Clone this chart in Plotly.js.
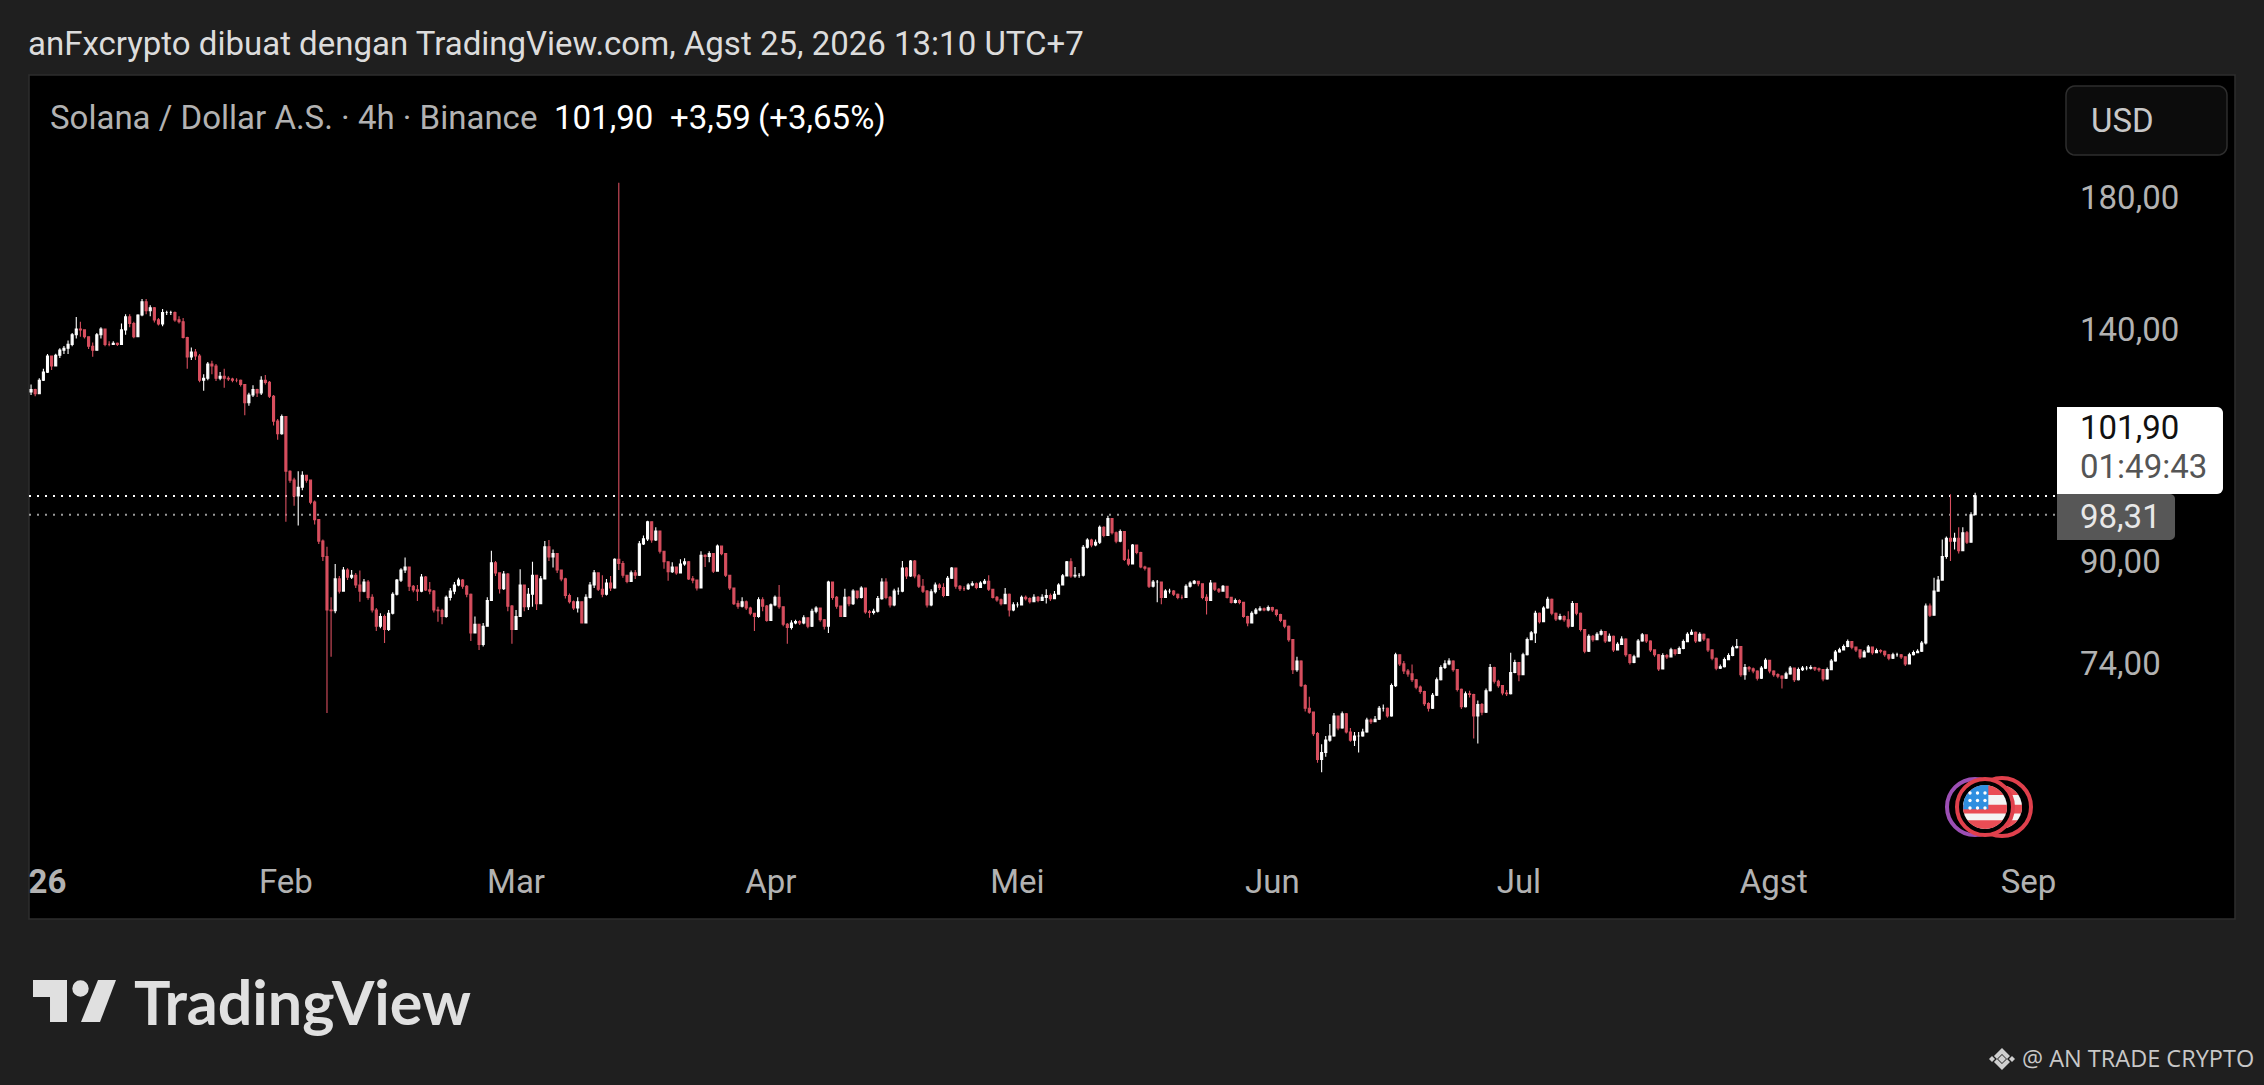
<!DOCTYPE html>
<html><head><meta charset="utf-8">
<script src="https://cdn.plot.ly/plotly-3.0.1.min.js"></script>
<style>html,body{margin:0;padding:0;background:#1f1f1f;overflow:hidden}#c{width:2264px;height:1085px}</style>
</head><body><div id="c"></div>
<script>
// Rows are 12-hour candles: [close, high, low]; a one-value row has no visible wick.
const janRows=[[124.8,126,123.5],[123.8,125,123.2],[127,127.5,124],[129,129.8,126.8],[133,133.5,128.8],[130.5,132.8,129.5],[133.2,133.6,130.5],[134.5,135,132.5],[135,135.6,133.5],[136,137,133.5],[138.5,139,135.5],[140,143.3,137.5],[139.8,142,138],[138,139.8,137.5],[135.5,138,134.8],[134.5,136.5,132.8],[138.5,139,134.5],[140,140.5,137.5],[136,140,135.5],[136,136.8,135.5],[136.3,136.8,135.8],[136,136.5,135.6],[139.8,141.5,136],[143.3,144,138.5],[141.5,144,140.5],[138,142,137.6],[143.8,144,138],[147.5,148.3,143.5],[145,148.3,144],[145.8,146.5,143.5],[142.5,146,141.8],[141.4,143,141],[144.5,145.5,140.8],[144.5,145,143.8],[144.5,145,143.8],[142.5,144.8,142],[142,143.5,141.5],[137.8,143,137.5],[132.8,138,129.8],[134,135.2,132],[133,134.8,132],[127,133.5,126.5],[127.5,128.5,124.5],[131,131.5,127],[130.5,131.8,128.5],[127.5,131,126.8],[128,129,127],[127.5,129.8,125.2],[127.3,128,126.8],[127,127.6,126.5],[127,127.5,126.5],[126,127.2,125.5],[121.7,126,118.8],[123.5,124,121],[124.8,125.8,123],[124,125,123],[127,128,123.5],[126.5,128.3,126],[123.2,126.8,122.8],[117.5,123.5,116.5],[114.7,118,113.4],[118.5,119,114.5]];
const febRows=[[106.8,115,97],[105,107,104.5],[101.9,105.5,100],[103.6,106.8,96.3],[106,106.8,103],[105,106,104.5],[100.7,105,100.3],[97.4,101,96.5],[93.5,97.5,93],[90.8,93.8,90],[82,92.5,67.4],[81.9,84,75],[87,89.5,81.5],[85,87.5,84.6],[88.5,89,85],[87.3,88.8,86.8],[87.6,88.5,87],[86,88,85.5],[85,88.4,83.3],[86.5,87,84.8],[84,86.8,83.6],[82,84.5,81.6],[79.5,82.3,78.8],[81,81.5,79.2],[79,81.3,77],[81.5,82,78.8],[84.5,84.8,81.3],[86.8,87,84.3],[88.5,88.8,86.5],[89,90.6,88],[85.8,89,85],[85.2,86,84.8],[85,86,83.4],[87.3,87.8,84.8],[85.2,87.5,85],[85,86.5,84.5],[82,85.2,81.6],[81.9,82.5,80.2],[81,82.2,79.8],[84,84.3,80.8],[85,85.5,83.5],[86,86.5,84.5],[86.8,87.2,85.8],[85.8,87,85.4],[84.5,86,84],[78.5,84.6,77.3],[79.8,81,79],[76.8,79.8,76],[79.5,80,76.5],[83.5,84,79.5],[89.7,91.8,83.5],[88,90,87.5],[85.4,88,84.6],[87.8,88.3,85.2],[82.6,88,81.8],[79,82.8,76.9]];
const marRows=[[81,82,79],[86,88.6,81],[82.5,86,81.8],[84.5,85.5,82],[87.6,89.9,82.5],[83,87.5,82],[87,87.5,83],[92.5,93.5,87],[90.7,93.7,90],[91.3,92,88.9],[88.5,89.2,88],[87,88.5,86.6],[84.3,87.2,83.8],[83.3,84.6,83],[82.3,83.5,82],[83.3,84,81.6],[80,82.5,79.9],[84,84.5,80],[86,86.5,83.8],[88,88.5,85.5],[85.3,88,85],[84.5,87.6,84],[86.3,87,84.3],[85.5,87.5,85],[90.3,90.5,85.4],[89.6,185,88.5],[87.6,90,87.2],[86.6,87.6,86.3],[88,88.4,86.5],[87.6,88.5,87],[93,93.5,87.5],[93.9,94.5,92.8],[97,97.2,93.5],[93.7,95.5,93.2],[95.3,96,93.5],[91.7,94.5,91.3],[89.9,90.4,88.7],[88.2,89.5,86.7],[89,89.8,88],[88,89,87.7],[89.5,90.3,88.3],[89.9,90.5,89.2],[87,90,86.8],[86.8,87.5,86.3],[85.5,86.3,85.1],[91,91.7,85.5],[90.8,91.2,89],[91.3,91.7,89.8],[88.3,91.3,88],[92.6,92.9,88.5],[91.3,92.5,91],[87.6,91.3,87.3],[85.5,87.7,85.2],[83,85.6,82.8],[82.6,83.5,82.2],[83.3,84,82.4],[82.3,83.5,82],[81.5,82.5,81.2],[81,81.5,78.8],[83.6,84,80.8],[82.6,84,81.8],[80.4,82.8,80.2]];
const aprRows=[[82.8,83,80.4],[84,84.3,82.6],[82.5,86,82.2],[79.8,82.6,79.5],[79.3,80,76.9],[80,80.4,79],[80.2,80.5,79.8],[80,80.4,79.7],[80.8,81.2,79.8],[79.5,80.8,79.2],[81.8,82.2,79.4],[82.3,82.6,81.5],[80.5,82.4,80.2],[79.5,80.6,79],[86.5,86.7,78.5],[84,86.5,83.6],[82.6,84.2,82.2],[81,82.6,80.9],[84,85.4,81],[83,84.2,82.6],[85,85.3,82.8],[84,85,83.7],[85.5,85.8,83.8],[81.7,85.5,81.4],[81.6,82,80.8],[81.8,82.2,81.3],[83.8,84.2,81.6],[86.5,87.1,83.6],[84,87.1,83.7],[82.8,84.2,82.4],[85,85.4,82.6],[85,85.6,84.4],[88.8,90,84.8],[87.5,89,87],[90,90.2,87.3],[87.5,90.2,87.1],[85.8,87.8,85.5],[85,87,84.7],[82.8,85.2,82.4],[84.9,85.3,82.6],[86,86.4,84.6],[85.6,86.3,85.2],[84.3,86.3,84],[87.1,87.5,84.2],[88.8,89,87],[85.8,86.8,85.4],[85.4,86,85],[85.4,85.8,85],[86,86.3,85.2],[86.2,86.6,85.8],[85.6,86.4,85.3],[86.3,86.6,85.5],[86.6,87,86.1],[85.3,87.6,85],[84,85.4,83.8],[83.6,84.2,83.3],[83,83.8,82.7],[84.5,85.5,83],[82,84.6,81],[82.8,83.2,81.8]];
const mayRows=[[82.8,83.2,82.4],[84,84.3,82.7],[83.8,84.3,83.5],[83.3,84,83],[84,84.5,83.2],[83.5,84.2,83.2],[84,84.5,83.4],[84.3,85.3,83],[83.8,84.6,83.4],[84.5,85,83.7],[86,86.3,84.4],[87.5,87.8,85.9],[89.9,90,87.4],[87.5,90.5,87.2],[87.6,89,87.2],[87.6,88,87.2],[92.4,92.8,87.4],[93.7,94,92.2],[92.8,93.9,92.4],[93.3,93.8,92.6],[96,96.3,93],[94.5,96.2,94.2],[97.6,98.1,95],[95,97.5,94.7],[93.5,95.2,93.1],[95.2,95.6,93.3],[90.3,95.3,90],[89.5,92,89.2],[92.8,93,89.4],[91.5,92.9,91.2],[89,91.6,88.8],[88.8,89.2,88.4],[85.8,88.5,85.5],[86.5,86.8,85.6],[86.5,86.8,83.2],[84,86,82.9],[85,85.3,83.9],[85,85.4,84.6],[84.5,85.2,84.2],[84,84.6,83.7],[84,84.4,83.7],[85.8,86.1,83.9],[86.3,86.6,85.6],[86.6,86.8,86.1],[86.2,86.7,85.8],[84,86.3,83.7],[83.5,84.5,81.3],[86.3,86.8,83.4],[85.3,86.4,85],[85,85.5,84.7],[85.8,86,84.9],[84,85.3,83.8],[83.2,84.1,83],[83.5,83.8,83],[83.2,83.7,82.9],[81,83.3,80.8],[80,81.1,79.5],[81.5,81.8,79.9],[82,82.3,81.3],[82.2,82.6,81.8],[82,82.4,81.8],[82.4,82.7,81.8]];
const junRows=[[82,82.5,81.7],[81.3,82.1,81],[80.4,81.4,80.1],[79.5,80.5,79.2],[77.5,79.6,77.2],[73.2,77.6,72.6],[74.4,75,72.9],[71,74.5,70.8],[68,71.2,67.6],[67.5,69.5,67.3],[64.8,67.6,64.5],[61.7,65,61.3],[62.5,63.5,60.2],[64,64.5,62],[64.5,66,63.8],[67,67.4,64.4],[65.5,67,65.2],[67.3,67.6,65.4],[65,67.4,64.8],[64,65.5,63.8],[64.5,65,63.3],[64.5,65,62.5],[65,65.4,64.4],[66.5,66.8,64.9],[66.3,66.7,66],[66.6,67,66.2],[68,68.3,66.5],[68,68.5,67.6],[67,68.1,66.8],[71,71.3,66.9],[75.3,75.6,70.8],[74,75,73.7],[73,74.4,72.6],[72.6,73.3,72.2],[71.8,73.9,71.5],[70.8,71.9,70.5],[70.2,71,69.9],[68.6,70.3,68.3],[68,68.8,67.6],[69.7,70,67.9],[71.8,72.1,69.6],[73.5,73.8,71.7],[74,74.5,73.3],[74.4,74.8,73.8],[73.2,74.5,72.9],[70.5,73.3,70.2],[68.2,70.6,67.9],[69.9,70.2,68.1],[69.8,70.3,69.4],[67,69.9,64.2],[68.5,69,63.6],[67.5,68.7,67.1],[70.3,70.6,67.4],[73.5,74,70.2],[71.6,73.6,71.3],[71,71.8,70.7],[70,71.1,69.7],[69.9,70.4,69.6],[72.8,75.6,69.8],[74.2,74.6,72.7]];
const julRows=[[72.5,73.8,71.6],[75.3,75.6,72.4],[77.5,77.8,75.2],[78.5,78.8,77.4],[81.5,81.9,77],[80.2,81.6,79.9],[82.3,82.6,80.1],[83.7,84.1,82.2],[81.5,83.8,81.2],[80.6,81.6,80.3],[81,81.4,80.4],[80.5,81.2,80.2],[79.5,81.8,79.2],[83,83.4,79.4],[81.5,83.1,81.2],[79,81.6,78.7],[75.8,79.1,75.5],[78,78.3,75.7],[77.5,78.2,77.2],[78.3,78.6,77.4],[78.7,79,78.1],[77.3,78.8,77],[78,78.4,77.2],[76,78.1,75.7],[76.8,77.1,75.9],[77.6,78,76.7],[75.3,77.7,75],[74.2,75.4,73.9],[75,75.3,74.1],[77.3,77.6,74.9],[78.2,78.5,77.2],[77.3,78.3,77],[76,77.4,75.7],[75.3,76.1,75],[73.3,75.4,73],[75.2,75.5,73.2],[75,75.4,74.7],[76,76.3,74.9],[75.5,76.1,75.2],[76.2,76.5,75.4],[77.2,77.5,76.1],[78.3,78.6,77.1],[78.6,79,78.2],[77.3,78.7,77],[78.3,78.6,77.2],[77.6,78.4,77.3],[76,77.7,75.7],[74.8,76.1,74.5],[73.4,74.9,73.1],[73.6,73.9,73.3],[74.6,74.9,73.5],[75.2,75.5,74.5],[76.3,76.6,75.1],[76.5,77.6,76.2],[72.5,76,72.2],[73.5,74,71.8],[73.3,73.7,72.9],[73,73.5,72.7],[72,73.1,71.7],[73.4,73.7,71.9],[74.5,74.8,73.3],[73,74.6,72.7]];
const augRows=[[72.5,73.1,72.2],[72.3,72.7,72],[72,72.4,70.6],[72.6,72.9,71.9],[73.4,73.7,72.5],[71.8,73.5,71.5],[73.2,73.5,71.7],[73.4,73.7,73],[73.4,73.7,73.1],[73.5,73.8,73.2],[73.3,73.6,73],[73.2,73.5,72.9],[71.9,73.3,71.6],[73.2,73.5,71.8],[74.4,74.7,73.1],[75.7,76,74.3],[76,76.3,75.6],[76.5,76.8,75.9],[77.2,77.5,76.4],[76.4,77.3,76.1],[76,76.5,75.7],[75,76.1,74.7],[75.7,76,74.9],[76.4,76.7,75.6],[75.6,76.5,75.3],[75.9,76.2,75.5],[75.8,76.1,75.5],[75.3,75.9,75],[74.8,75.4,74.5],[75.3,75.6,74.7],[75.3,75.6,75],[75,75.4,74.7],[74,75.1,73.7],[75.3,75.6,73.9],[75.6,75.9,75.2],[75.8,76.1,75.5],[77,77.3,75.7],[82.6,83,76.8],[81.2,83,80.9],[85,87.2,83.5],[86.8,87.5,85],[90.8,93.8,86.8],[94,94.3,90.4],[93.5,102.2,90],[94,95,92],[91.8,96,91.3],[95,96,92],[93.3,95.3,93],[98.31,98.8,93.3],[101.9,102.5,98.31]];
const monthStarts=['2026-01-01','2026-02-01','2026-03-01','2026-04-01','2026-05-01','2026-06-01','2026-07-01','2026-08-01'];
const monthRows=[janRows,febRows,marRows,aprRows,mayRows,junRows,julRows,augRows];
const xTickDates=['2026-01-03','2026-02-01','2026-03-01','2026-04-01','2026-05-01','2026-06-01','2026-07-01','2026-08-01','2026-09-01'];
const xTickLabels=['<b>26</b>','Feb','Mar','Apr','Mei','Jun','Jul','Agst','Sep'];
const yTickValues=[74,90,140,180];
const yTickLabels=['74,00','90,00','140,00','180,00'];
const lastPrice=101.90, prevClose=98.31;

const times=[],open=[],high=[],low=[],close=[];
let prev=124.2;
monthRows.forEach((rows,m)=>{
  const t0=Date.parse(monthStarts[m]+'T00:00:00Z');
  rows.forEach((r,i)=>{
    const c=r[0];
    times.push(new Date(t0+i*43200000).toISOString().slice(0,16).replace('T',' '));
    open.push(prev);close.push(c);
    high.push(Math.max(r[1]??c,prev,c));low.push(Math.min(r[2]??c,prev,c));
    prev=c;
  });
});

// page geometry (px on the 2264x1085 canvas)
const L=29,R=2057,T=76,B=857;
const fx=x=>(x-L)/(R-L), fy=y=>(B-y)/(B-T);
const P=(x,y)=>fx(x).toFixed(5)+','+fy(y).toFixed(5);
const poly=(pts)=>'M'+pts.map(p=>P(p[0],p[1])).join('L')+'Z';
const base={xref:'paper',yref:'paper'};
const rect=(x0,y0,x1,y1,fill,line,layer)=>({...base,type:'rect',x0:fx(x0),x1:fx(x1),y0:fy(y0),y1:fy(y1),fillcolor:fill,line:line||{width:0},layer:layer||'above'});
const circ=(cx,cy,r,fill,lc,lw)=>({...base,type:'circle',x0:fx(cx-r),x1:fx(cx+r),y0:fy(cy-r),y1:fy(cy+r),fillcolor:fill,line:{color:lc||fill,width:lw||0},layer:'above'});
const path=(d,fill,line,layer)=>({...base,type:'path',path:d,fillcolor:fill,line:line||{width:0},layer:layer||'above'});
function rrect(x0,y0,x1,y1,r,rl){ // rounded rectangle polygon; rl false squares the left corners
  const pts=[];const arc=(cx,cy,a0)=>{for(let k=0;k<=6;k++){const a=a0+k*Math.PI/12;pts.push([cx+r*Math.cos(a),cy+r*Math.sin(a)]);}};
  if(rl){arc(x0+r,y0+r,Math.PI);}else pts.push([x0,y0]);
  arc(x1-r,y0+r,-Math.PI/2);arc(x1-r,y1-r,0);
  if(rl){arc(x0+r,y1-r,Math.PI/2);}else pts.push([x0,y1]);
  return poly(pts);
}
function chord(cx,cy,r,y0,y1){ // horizontal band of a circle
  const pts=[],n=8;
  for(let k=0;k<=n;k++){const y=y0+(y1-y0)*k/n;pts.push([cx+Math.sqrt(Math.max(0,r*r-(y-cy)*(y-cy))),y]);}
  for(let k=n;k>=0;k--){const y=y0+(y1-y0)*k/n;pts.push([cx-Math.sqrt(Math.max(0,r*r-(y-cy)*(y-cy))),y]);}
  return poly(pts);
}
function flag(cx,cy,r){
  const out=[circ(cx,cy,r,'#f4f4f4')];
  [[-r,-r*.55],[-r*.1,r*.3],[r*.6,r]].forEach(b=>out.push(path(chord(cx,cy,r,cy+b[0],cy+b[1]),'#ea4d55')));
  return out;
}
function cantonPath(cx,cy,r){ // upper-left quarter-ish of the flag disc
  const pts=[[cx+r*.15,cy-r],[cx+r*.15,cy+r*.1]];
  pts.push([cx-Math.sqrt(r*r-r*r*.01),cy+r*.1]);
  for(let k=1;k<=8;k++){const a=Math.PI+0.1+k*(Math.PI/2-0.1-0.1)/8;pts.push([cx+r*Math.cos(a),cy+r*Math.sin(a)]);}
  return poly(pts);
}
const cx=1985,cy=807;
const shapes=[
  rect(29,75,2235,919,'#000000',{color:'#2e2e2e',width:1.5},'below'),
  {type:'line',xref:'paper',yref:'y',x0:0,x1:1,y0:lastPrice,y1:lastPrice,line:{color:'#ffffff',width:2,dash:'2px,6px'},layer:'below'},
  {type:'line',xref:'paper',yref:'y',x0:0,x1:1,y0:prevClose,y1:prevClose,line:{color:'#9a9a9a',width:2,dash:'2px,6px'},layer:'below'},
  path(rrect(2066,86,2227,155,9,true),'#0c0c0c',{color:'#2e2e2e',width:1.5}),
  path(rrect(2057,494,2175,540,5,false),'#575757'),
  path(rrect(2057,407,2223,494,6,false),'#ffffff'),
  circ(1975,807,28,'#000000','#9c4fb4',4),
  circ(2002,807,29,'#000000','#e0404c',4),
  ...flag(2000,807,22),
  circ(cx,cy,28,'#000000','#e0404c',4),
  ...flag(cx,cy,22),
  path(cantonPath(cx,cy,22),'#2f8fe0'),
  // TradingView logo mark
  path(poly([[33,980],[67,980],[67,1022],[50,1022],[50,997],[33,997]]),'#e0e0e0'),
  circ(80.5,988.5,8.2,'#e0e0e0'),
  path(poly([[98,980],[116,980],[100,1022],[81,1022]]),'#e0e0e0'),
  // Binance mark
  path(poly([[2002,1055],[2006,1059],[2002,1063],[1998,1059]]),'#cfcfcf'),
  path(poly([[2002,1048],[2010,1056],[2007,1059],[2002,1054],[1997,1059],[1994,1056]]),'#cfcfcf'),
  path(poly([[2002,1070],[2010,1062],[2007,1059],[2002,1064],[1997,1059],[1994,1062]]),'#cfcfcf'),
  path(poly([[1989,1059],[1992,1056],[1995,1059],[1992,1062]]),'#cfcfcf'),
  path(poly([[2009,1059],[2012,1056],[2015,1059],[2012,1062]]),'#cfcfcf')
];
for(let a=0;a<3;a++)for(let b=0;b<3;b++)shapes.push(circ(cx-15+b*7.5,cy-14+a*7.5,1.7,'#ffffff'));

const txt=(text,x,y,size,color,extra)=>({xref:'paper',yref:'paper',x:fx(x),y:fy(y),text,showarrow:false,xanchor:'left',yanchor:'middle',font:{family:'Roboto',size,color},...(extra||{})});
const annotations=[
  txt('anFxcrypto dibuat dengan TradingView.com, Agst 25, 2026 13:10 UTC+7',26,43,33,'#dcdcdc'),
  txt('Solana / Dollar A.S. · 4h · Binance',48,118,33,'#b2b2b2'),
  txt('101,90',552,118,33,'#ffffff'),
  txt('+3,59',668,118,33,'#ffffff'),
  txt('(+3,65%)',756,118,33,'#ffffff'),
  txt('USD',2089,120,33,'#c8c8c8'),
  txt('101,90',2078,427,33,'#111111'),
  txt('01:49:43',2078,467,33,'#555555'),
  txt('98,31',2078,516,33,'#e8e8e8'),
  txt('TradingView',132,1001,61,'#e0e0e0',{font:{family:'Lato',size:61,color:'#e0e0e0',weight:700}}),
  txt('@ AN TRADE CRYPTO',2020,1058,23.5,'#c8c8c8',{font:{family:'Open Sans',size:23.5,color:'#c8c8c8'}})
];

Plotly.newPlot('c',[{
  type:'candlestick',x:times,open,high,low,close,
  increasing:{line:{color:'#ffffff',width:1.1},fillcolor:'#ffffff'},
  decreasing:{line:{color:'#d84f5f',width:1.1},fillcolor:'#d84f5f'},
  whiskerwidth:0,hoverinfo:'skip',showlegend:false
}],{
  width:2264,height:1085,
  paper_bgcolor:'#1f1f1f',plot_bgcolor:'#000000',
  margin:{l:L,r:2264-R,t:T,b:1085-B,pad:0},
  showlegend:false,hovermode:false,dragmode:false,
  font:{family:'Roboto',color:'#b2b2b2',size:33},
  xaxis:{type:'date',range:['2025-12-31 18:00','2026-09-04 11:00'],rangeslider:{visible:false},
    tickmode:'array',tickvals:xTickDates,ticktext:xTickLabels,ticks:'',showgrid:false,zeroline:false,showline:false,
    tickangle:0,tickfont:{family:'Roboto',size:33,color:'#b2b2b2'},ticklabelstandoff:2},
  yaxis:{type:'log',side:'right',range:[1.7095,2.3555],
    tickmode:'array',tickvals:yTickValues,ticktext:yTickLabels,ticks:'',showgrid:false,zeroline:false,showline:false,
    tickfont:{family:'Roboto',size:33,color:'#b2b2b2'},ticklabelstandoff:22},
  shapes,annotations
},{displayModeBar:false,staticPlot:true});
</script></body></html>
